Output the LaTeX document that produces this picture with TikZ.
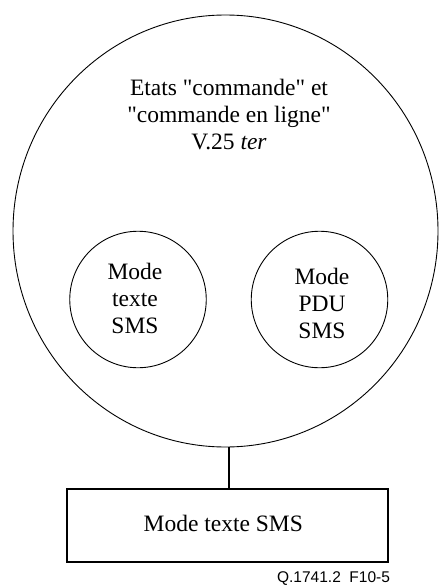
\documentclass[tikz,border=0pt]{standalone}
\usepackage{fontspec}
\setmainfont{Liberation Serif}
\newfontfamily\labelfont{Liberation Sans}
\usetikzlibrary{shapes.geometric}
\begin{document}
\begin{tikzpicture}[x=1pt,y=-1pt,
  every node/.style={inner sep=0pt,outer sep=0pt},
  bigtxt/.style={font=\fontsize{23.5}{27}\selectfont,align=center},
  region/.style={draw,line width=0.9pt},
  modebox/.style={draw,line width=1.1pt,minimum width=321pt,minimum height=73pt},
  link/.style={line width=1.8pt}]
  \useasboundingbox (0,0) rectangle (439,585);
  % outer state: "commande" / "commande en ligne"
  \node[region,ellipse,minimum width=425pt,minimum height=432pt] (outer) at (225.5,231) {};
  \node[bigtxt] (outertxt) at (229,115)
    {Etats \textquotedbl commande\textquotedbl{} et\\\textquotedbl commande en ligne\textquotedbl\\V.25 \textit{ter}};
  % inner modes
  \node[region,circle,minimum size=136.5pt] (textmode) at (138,299.5) {};
  \node[bigtxt] (textmodetxt) at (135,298.6) {Mode\\texte\\SMS};
  \node[region,circle,minimum size=136.5pt] (pdumode) at (319.5,299.5) {};
  \node[bigtxt] (pdumodetxt) at (322,303.6) {Mode\\PDU\\SMS};
  % lower box
  \node[modebox] (sms) at (227.5,525.5) {};
  \node[bigtxt,anchor=base] (smstxt) at (223.3,531) {Mode texte SMS};
  \coordinate (join) at (229,489);
  \draw[link] (join) -- (join |- outer.south);
  % figure reference
  \node[anchor=base east,font=\labelfont\fontsize{15.5}{17}\selectfont] (ref) at (390,582.7)
    {Q.1741.2\hspace{0.556em}F10-5};
\end{tikzpicture}
\end{document}
